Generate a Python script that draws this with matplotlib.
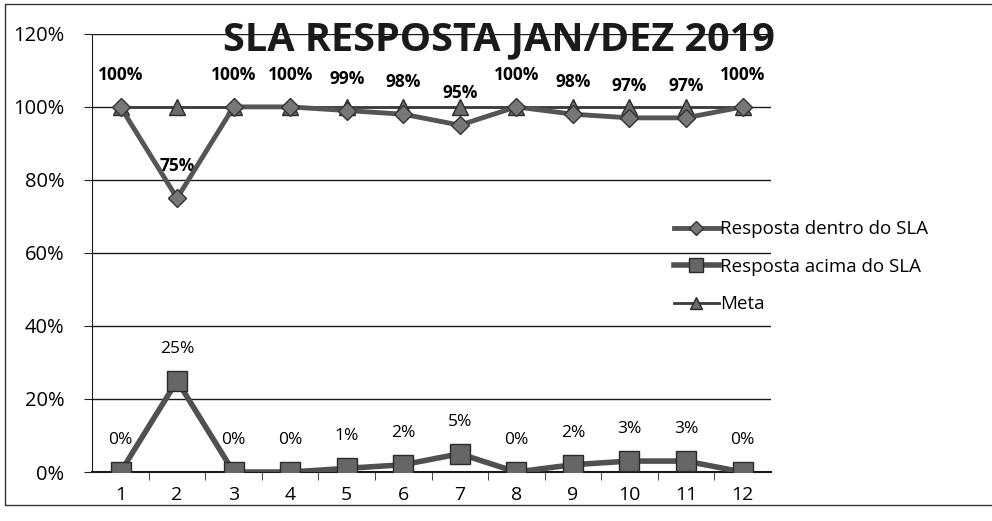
import numpy as np
import matplotlib.pyplot as plt
from matplotlib.patches import Rectangle
from matplotlib.ticker import FixedLocator, PercentFormatter

plt.rcParams['font.family'] = ['Open Sans', 'DejaVu Sans']

months = np.arange(1, 13)
dentro = [100, 75, 100, 100, 99, 98, 95, 100, 98, 97, 97, 100]
acima = [0, 25, 0, 0, 1, 2, 5, 0, 2, 3, 3, 0]
meta = [100] * 12

fig = plt.figure(figsize=(9.92, 5.21), dpi=100)
ax = fig.add_axes([0.093, 0.094, 0.684, 0.841])

# meta first, the other series sit on top of it
ax.plot(months, meta, color='#3a3a3a', lw=2, marker='^', ms=12,
        mfc='#6a6a6a', mec='#2a2a2a', label='Meta', zorder=3)
ax.plot(months, dentro, color='#555555', lw=3.5, marker='D', ms=9,
        mfc='#777777', mec='#333333', label='Resposta dentro do SLA', zorder=4)
ax.plot(months, acima, color='#505050', lw=4, marker='s', ms=14,
        mfc='#666666', mec='#2a2a2a', label='Resposta acima do SLA', zorder=4)

for x, v in zip(months, dentro):
    ax.annotate(f'{v}%', (x, v), xytext=(0, 23), textcoords='offset points',
                ha='center', va='center', fontsize=12.5, fontweight='bold')
for x, v in zip(months, acima):
    ax.annotate(f'{v}%', (x, v), xytext=(0, 23), textcoords='offset points',
                ha='center', va='center', fontsize=12.5)

ax.set_xlim(0.5, 12.5)
ax.set_ylim(0, 120)
ax.set_yticks(np.arange(0, 121, 20))
ax.yaxis.set_major_formatter(PercentFormatter(decimals=0))
ax.set_xticks(months)
ax.xaxis.set_minor_locator(FixedLocator(np.arange(1.5, 12.5, 1)))
ax.tick_params(axis='x', which='major', length=0, pad=10, labelsize=14)
ax.tick_params(axis='x', which='minor', length=6, direction='out', color='#222222')
ax.tick_params(axis='y', length=6, pad=14, labelsize=14.5, color='#222222')
ax.grid(axis='y', color='#1a1a1a', lw=1)
ax.set_axisbelow(True)
for s in ['top', 'right']:
    ax.spines[s].set_visible(False)
for s in ['left', 'bottom']:
    ax.spines[s].set_color('#1a1a1a')
ax.spines['bottom'].set_linewidth(1.5)

h, l = ax.get_legend_handles_labels()
order = [1, 2, 0]
fig.legend([h[i] for i in order], [l[i] for i in order],
           loc='upper left', bbox_to_anchor=(0.662, 0.61), frameon=False,
           fontsize=13.5, handlelength=2.4, handletextpad=0.1, labelspacing=1.05,
           markerscale=0.75)

fig.text(0.503, 1 - 40 / 521, 'SLA RESPOSTA JAN/DEZ 2019', ha='center',
         va='center', fontsize=28.5, fontweight='bold', color='#1a1a1a')

fig.patches.append(Rectangle((0.005, 0.03), 1.2, 0.962, transform=fig.transFigure,
                             fill=False, ec='#333333', lw=1))

fig.savefig('out.png', dpi=100)
